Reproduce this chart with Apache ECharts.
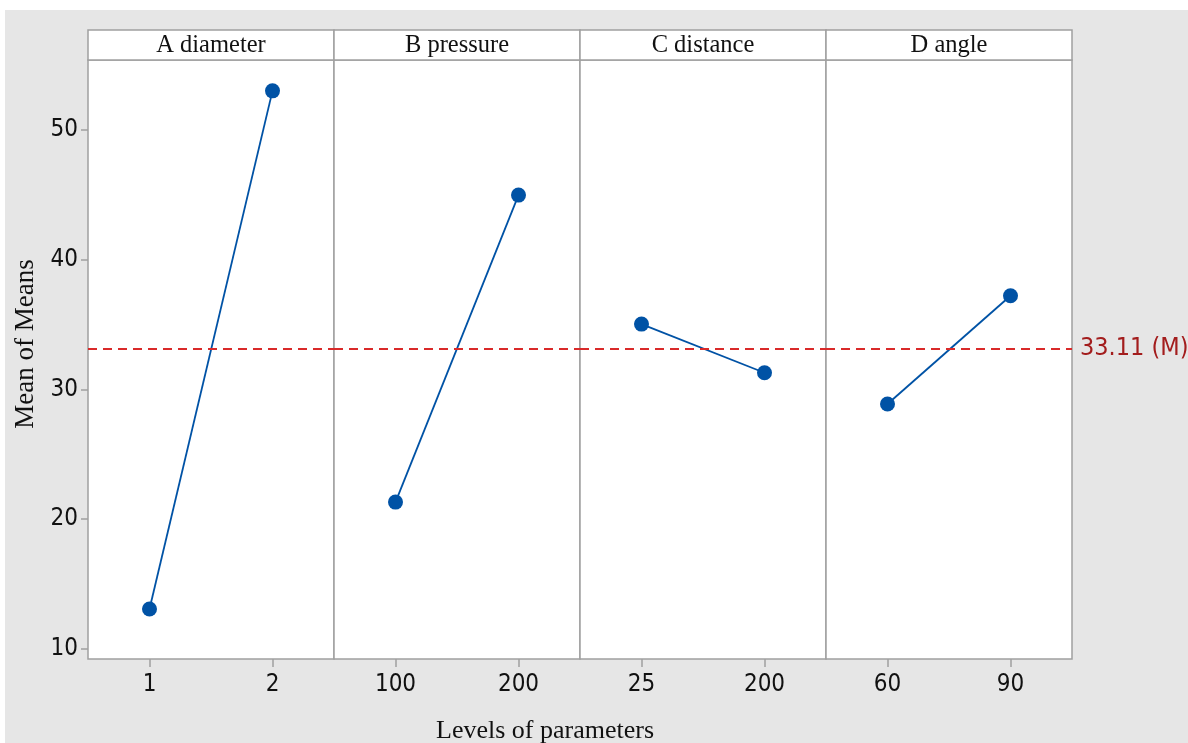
<!DOCTYPE html>
<html><head><meta charset="utf-8">
<script src="https://cdn.jsdelivr.net/npm/echarts@6/dist/echarts.min.js"></script>
<style>html,body{margin:0;padding:0;background:#fff}#c{width:1188px;height:743px}</style>
</head><body><div id="c"></div>
<script>
const panelTitles = ['A diameter', 'B pressure', 'C distance', 'D angle'];
const levelsA = ['1', '2'];
const levelsB = ['100', '200'];
const levelsC = ['25', '200'];
const levelsD = ['60', '90'];
const meansA = [13.06, 53.02];
const meansB = [21.30, 44.98];
const meansC = [35.03, 31.28];
const meansD = [28.87, 37.22];
const yTicks = [10, 20, 30, 40, 50];
const grandMean = 33.11;
const meanLabel = '33.11 (M)';
const xTitle = 'Levels of parameters';
const yTitle = 'Mean of Means';

const levels = [levelsA, levelsB, levelsC, levelsD];
const means = [meansA, meansB, meansC, meansD];

const chart = echarts.init(document.getElementById('c'));
const L0 = 88, PW = 246, TOP = 60, BOT = 84, HEAD = 30;
const sansFont = '"DejaVu Sans Condensed","Liberation Sans Narrow","DejaVu Sans",sans-serif';
const serifFont = '"Liberation Serif","DejaVu Serif",serif';
const borderCol = '#a0a0a0';

const grids = [], xAxes = [], yAxes = [], series = [], graphics = [];
graphics.push({type: 'rect', z: -100, shape: {x: 5, y: 10, width: 1183, height: 733}, style: {fill: '#e6e6e6'}, silent: true});
graphics.push({type: 'text', z: 10, x: 545, y: 731,
  style: {text: xTitle, font: '26px ' + serifFont, fill: '#111', textAlign: 'center', textVerticalAlign: 'middle'}});
graphics.push({type: 'text', z: 10, x: 26, y: 344, rotation: Math.PI / 2,
  style: {text: yTitle, font: '27px ' + serifFont, fill: '#111', textAlign: 'center', textVerticalAlign: 'middle'}});

for (let i = 0; i < 4; i++) {
  const left = L0 + i * PW;
  grids.push({left: left, width: PW, top: TOP, bottom: BOT, show: true, backgroundColor: '#fff',
    borderColor: borderCol, borderWidth: 1.5, containLabel: false});
  graphics.push({type: 'rect', z: 5, shape: {x: left, y: HEAD, width: PW, height: TOP - HEAD},
    style: {fill: '#fff', stroke: borderCol, lineWidth: 1.5}});
  graphics.push({type: 'text', z: 6, x: left + PW / 2, y: HEAD + (TOP - HEAD) / 2 + 1,
    style: {text: panelTitles[i], font: '24.5px ' + serifFont, fill: '#111', textAlign: 'center', textVerticalAlign: 'middle'}});
  xAxes.push({type: 'category', gridIndex: i, data: levels[i], boundaryGap: true,
    axisLine: {show: false}, axisTick: {show: true, alignWithLabel: true, length: 8, lineStyle: {color: borderCol, width: 1.5}},
    axisLabel: {fontSize: 24, fontFamily: sansFont, color: '#111', margin: 14}, splitLine: {show: false}});
  yAxes.push({type: 'value', gridIndex: i, min: 9.2, max: 55.4,
    axisLine: {show: false},
    axisTick: {show: i === 0, length: 7, customValues: yTicks, lineStyle: {color: borderCol, width: 1.5}},
    axisLabel: {show: i === 0, customValues: yTicks, fontSize: 24, fontFamily: sansFont, color: '#111', margin: 10, padding: [4, 0, 0, 0]},
    splitLine: {show: false}});
  series.push({type: 'line', xAxisIndex: i, yAxisIndex: i, data: means[i],
    symbol: 'circle', symbolSize: 15, itemStyle: {color: '#0052a5'}, lineStyle: {color: '#0052a5', width: 1.8},
    animation: false, z: 3,
    markLine: {silent: true, symbol: 'none', animation: false,
      lineStyle: {color: '#d92a2a', type: [9, 6], width: 2},
      label: {show: i === 3, position: 'end', formatter: meanLabel, fontSize: 25, fontFamily: sansFont, color: '#a31d1d', distance: 8},
      data: [{yAxis: grandMean}]}});
}

chart.setOption({backgroundColor: '#fff', animation: false, grid: grids, xAxis: xAxes, yAxis: yAxes, series: series, graphic: graphics});
</script></body></html>
